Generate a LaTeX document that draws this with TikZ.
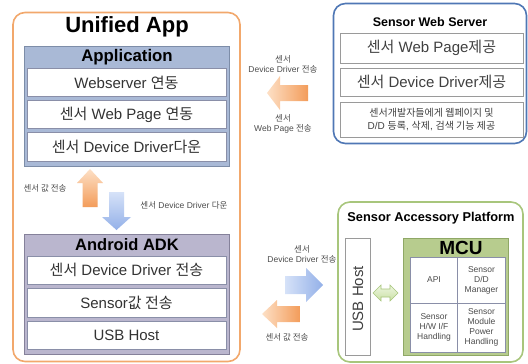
\documentclass[tikz,border=0pt]{standalone}
\usepackage{fontspec}
\setmainfont{Liberation Sans}
\newfontfamily\kr{Noto Sans CJK KR}
\begin{document}
\begin{tikzpicture}[x=1pt,y=-1pt,
  outerbox/.style={draw, rounded corners=12pt, line width=1.6pt, inner sep=0pt, fill=white},
  groupbox/.style={draw, line width=1pt, inner sep=0pt},
  rowbox/.style={draw=rowline, fill=white, line width=0.9pt, inner sep=0pt, minimum width=199pt, minimum height=28pt, font=\fontsize{15}{17}\selectfont, text=black!80},
  wsrow/.style={draw=wsrowline, fill=white, line width=0.9pt, inner sep=0pt, minimum width=183pt},
  cell/.style={draw=rowline, fill=white, line width=0.8pt, inner sep=0pt, minimum width=48pt, minimum height=46pt, align=center, font=\fontsize{8.5}{10}\selectfont, text=black!70},
  lbl/.style={font=\fontsize{8.5}{10}\selectfont, text=black!70, align=center, inner sep=0pt},
  ttl/.style={font=\bfseries, inner sep=0pt}
]
\definecolor{orangeline}{HTML}{F2A86C}
\definecolor{appfill}{HTML}{A9B9D6}
\definecolor{appline}{HTML}{7D8DA8}
\definecolor{adkfill}{HTML}{BAB6CE}
\definecolor{adkline}{HTML}{85819A}
\definecolor{rowline}{HTML}{8A8FA8}
\definecolor{wsline}{HTML}{4F77B5}
\definecolor{wsrowline}{HTML}{9A9A9A}
\definecolor{sapline}{HTML}{A8C67C}
\definecolor{mcufill}{HTML}{B7CC8E}
\definecolor{mculine}{HTML}{8FA866}
\definecolor{orlight}{HTML}{FDE0C6}
\definecolor{ordark}{HTML}{F39C5A}
\definecolor{bllight}{HTML}{D6E2F8}
\definecolor{bldark}{HTML}{93B0E8}
\definecolor{grlight}{HTML}{EEF6E0}
\definecolor{grdark}{HTML}{C9E0A4}
\useasboundingbox (0,0) rectangle (528,364);

% Unified App
\node[outerbox, draw=orangeline, minimum width=227pt, minimum height=349pt] (ua) at (126.5,187) {};
\node[ttl, font=\fontsize{22}{24}\bfseries\selectfont] (uat) at (127,27) {Unified App};

\node[groupbox, draw=appline, fill=appfill, minimum width=205pt, minimum height=120pt] (app) at (126.5,106) {};
\node[ttl, font=\fontsize{16.8}{18}\bfseries\selectfont] (appt) at (127,57) {Application};
\node[rowbox] (a1) at (126.5,82.5) {Webserver {\kr 연동}};
\node[rowbox] (a2) at (126.5,114.5) {{\kr 센서} Web Page {\kr 연동}};
\node[rowbox, minimum height=29pt] (a3) at (126.5,147) {{\kr 센서} Device Driver{\kr 다운}};

\node[groupbox, draw=adkline, fill=adkfill, minimum width=205pt, minimum height=120pt] (adk) at (126.5,294) {};
\node[ttl, font=\fontsize{16.5}{18}\bfseries\selectfont] (adkt) at (127,245) {Android ADK};
\node[rowbox] (d1) at (126.5,270) {{\kr 센서} Device Driver {\kr 전송}};
\node[rowbox, minimum height=29pt] (d2) at (126.5,302.5) {Sensor{\kr 값 전송}};
\node[rowbox] (d3) at (126.5,335) {USB Host};

% vertical arrows
\shade[top color=orlight, bottom color=ordark]
  (82.5,207) -- (82.5,183) -- (77,183) -- (90,169) -- (103,183) -- (97.5,183) -- (97.5,207) -- cycle;
\shade[top color=bllight, bottom color=bldark]
  (109,192) -- (124,192) -- (124,217) -- (131,217) -- (116.5,230) -- (102,217) -- (109,217) -- cycle;
\node[lbl] (l1) at (45,188) {{\kr 센서 값 전송}};
\node[lbl] (l2) at (184,205) {{\kr 센서} Device Driver {\kr 다운}};

% Sensor Web Server
\node[outerbox, draw=wsline, minimum width=193pt, minimum height=140pt] (ws) at (430,73.5) {};
\node[ttl, font=\fontsize{12.5}{14}\bfseries\selectfont] (wst) at (430,22) {Sensor Web Server};
\node[wsrow, minimum height=30pt, font=\fontsize{15}{17}\selectfont, text=black!75] (w1) at (431.5,48) {{\kr 센서} Web Page{\kr 제공}};
\node[wsrow, minimum height=28pt, font=\fontsize{15}{17}\selectfont, text=black!75] (w2) at (431.5,82) {{\kr 센서} Device Driver{\kr 제공}};
\node[wsrow, minimum height=35pt, align=center, font=\fontsize{10}{12.5}\selectfont, text=black!75] (w3) at (431.5,119.5) {{\kr 센서개발자들에게 웹페이지 및}\\D/D {\kr 등록}, {\kr 삭제}, {\kr 검색 기능 제공}};

\shade[left color=orlight, right color=ordark]
  (308,85) -- (280,85) -- (280,76) -- (267,93) -- (280,110) -- (280,101) -- (308,101) -- cycle;
\node[lbl] (l3) at (283,64) {{\kr 센서}\\Device Driver {\kr 전송}};
\node[lbl] (l4) at (283,124) {{\kr 센서}\\Web Page {\kr 전송}};

% Sensor Accessory Platform
\node[outerbox, draw=sapline, minimum width=185pt, minimum height=160pt] (sap) at (430.5,282) {};
\node[ttl, font=\fontsize{12.8}{14}\bfseries\selectfont] (sapt) at (431,218) {Sensor Accessory Platform};
\node[draw=wsrowline, fill=white, line width=0.9pt, inner sep=0pt, minimum width=25pt, minimum height=117pt] (usb) at (357.5,296.5) {};
\node[rotate=90, font=\fontsize{15}{17}\selectfont, text=black!75, inner sep=0pt] (usbt) at (358,299) {USB Host};
\node[groupbox, draw=mculine, fill=mcufill, minimum width=105pt, minimum height=117pt] (mcu) at (455.5,296.5) {};
\node[ttl, font=\fontsize{19}{21}\bfseries\selectfont] (mcut) at (461,248) {MCU};
\node[cell] (c1) at (434,280) {API};
\node[cell] (c2) at (481.5,280) {Sensor\\D/D\\Manager};
\node[cell, minimum height=49pt] (c3) at (434,327.5) {Sensor\\H/W I/F\\Handling};
\node[cell, minimum height=49pt] (c4) at (481.5,327.5) {Sensor\\Module\\Power\\Handling};

\shade[draw=sapline, line width=0.6pt, top color=grlight, bottom color=grdark]
  (373,293) -- (381,285) -- (381,289) -- (390,289) -- (390,285) -- (398,293) -- (390,301) -- (390,297) -- (381,297) -- (381,301) -- cycle;

\shade[left color=bllight, right color=bldark]
  (285,276) -- (306,276) -- (306,268) -- (323,285) -- (306,302) -- (306,294) -- (285,294) -- cycle;
\shade[left color=orlight, right color=ordark]
  (300,306) -- (277,306) -- (277,300) -- (262,314) -- (277,328) -- (277,322) -- (300,322) -- cycle;
\node[lbl] (l5) at (302,254) {{\kr 센서}\\Device Driver {\kr 전송}};
\node[lbl] (l6) at (287,337) {{\kr 센서 값 전송}};
\end{tikzpicture}
\end{document}
